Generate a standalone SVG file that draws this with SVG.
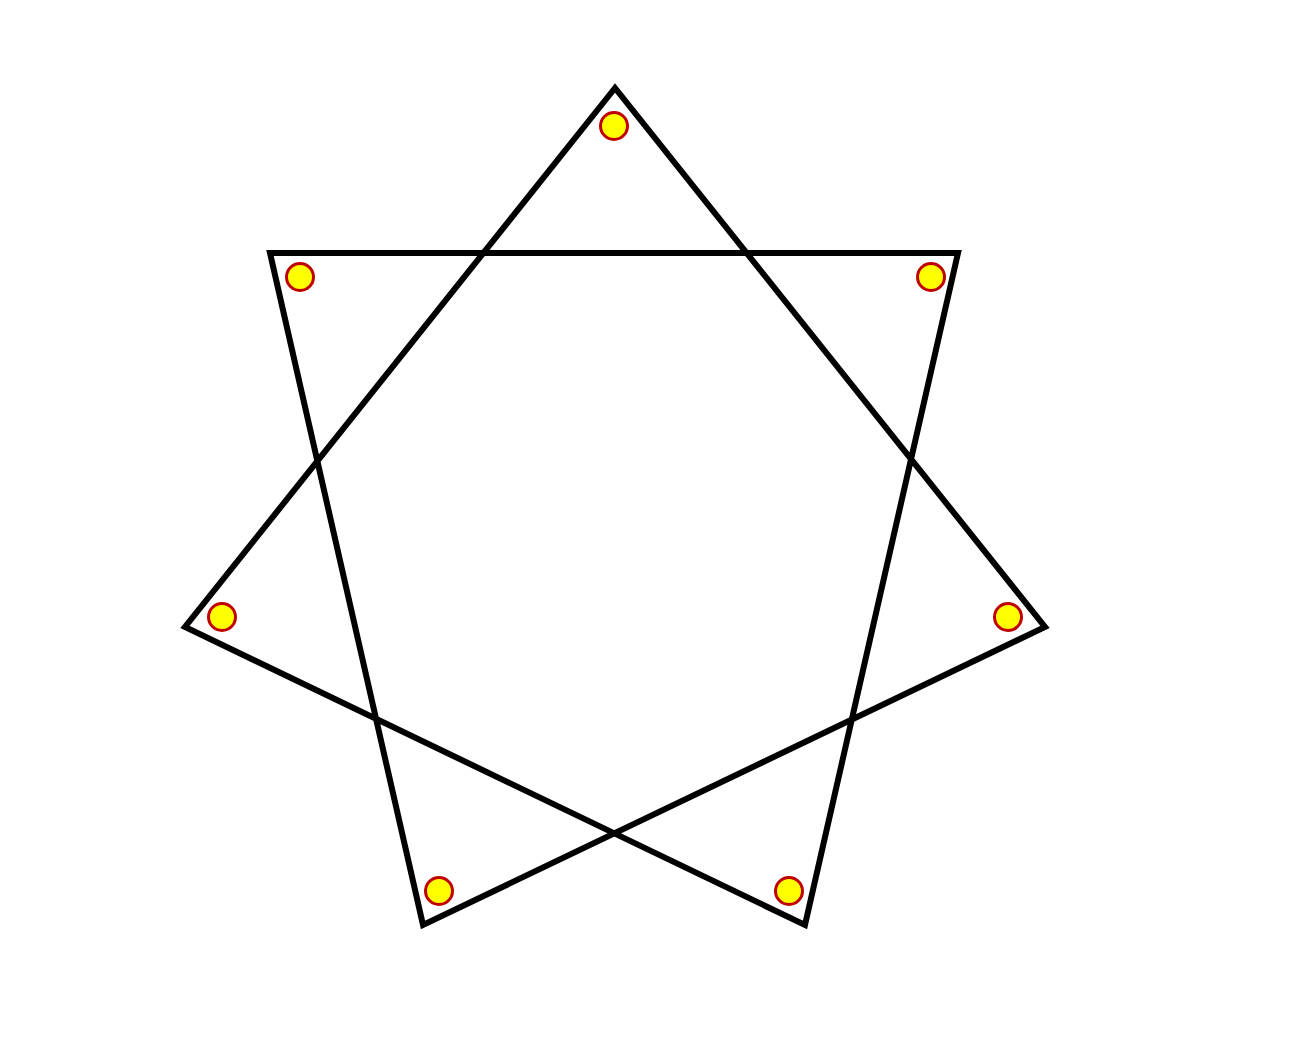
<svg xmlns="http://www.w3.org/2000/svg" width="1298" height="1042" viewBox="0 0 1298 1042">
<style>
.star{fill:none;stroke:#000;stroke-width:6;stroke-linejoin:miter;stroke-miterlimit:10}
.pt{fill:#ffff00;stroke:#c00000;stroke-width:3}
</style>
<rect width="1298" height="1042" fill="#fff"/>
<g id="connectors">
<path class="star" d="M615,88 L185,627 L805,925 L958,253 L270,253 L423,925 L1045,627 Z"/>
</g>
<g id="n0"><circle class="pt" cx="614" cy="126" r="13.5"/></g>
<g id="n1"><circle class="pt" cx="931" cy="277" r="13.5"/></g>
<g id="n2"><circle class="pt" cx="1008" cy="617" r="13.5"/></g>
<g id="n3"><circle class="pt" cx="789" cy="891" r="13.5"/></g>
<g id="n4"><circle class="pt" cx="439" cy="891" r="13.5"/></g>
<g id="n5"><circle class="pt" cx="222" cy="617" r="13.5"/></g>
<g id="n6"><circle class="pt" cx="300" cy="277" r="13.5"/></g>
</svg>
